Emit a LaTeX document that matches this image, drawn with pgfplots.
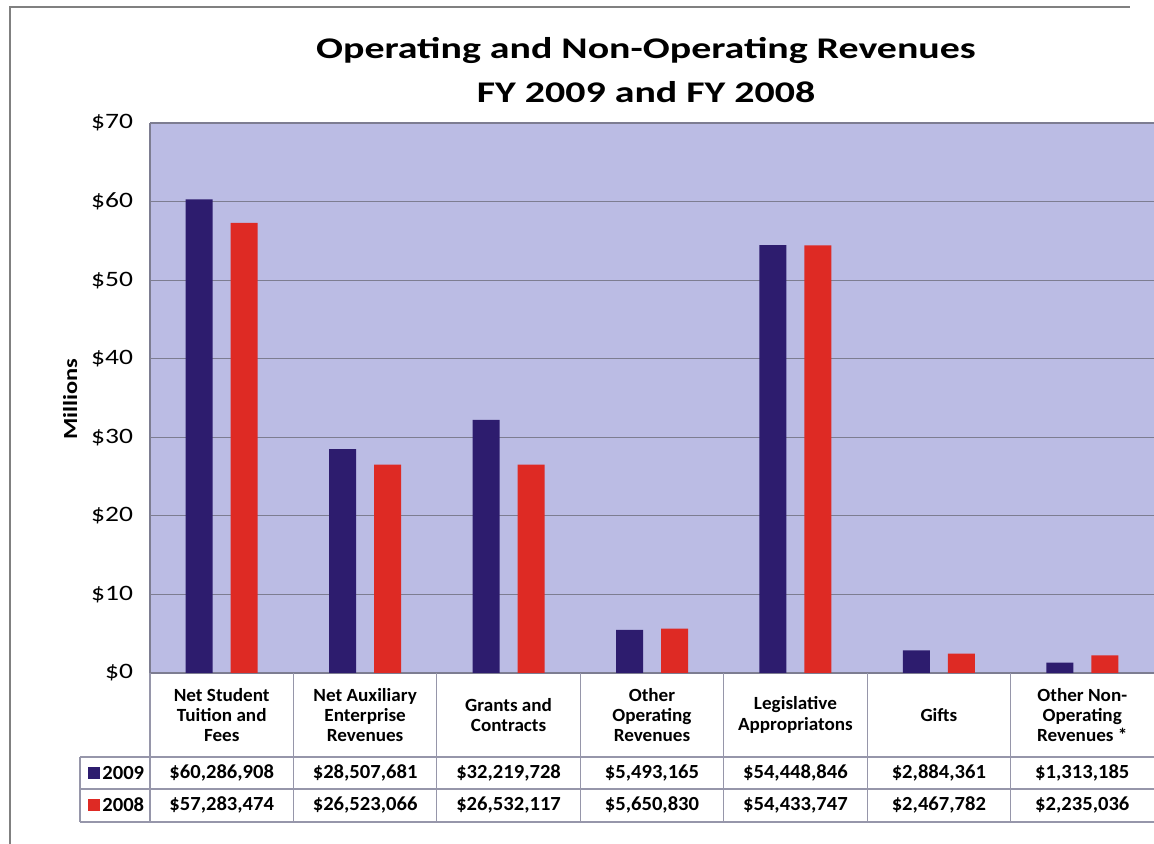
\documentclass[border=0pt]{standalone}
\usepackage{pgfplots}
\pgfplotsset{compat=1.18}
\usepackage{fontspec}
\setmainfont{Carlito}
\newfontfamily\titlefont[FakeStretch=1.33]{Carlito}
\newfontfamily\tickfont[FakeStretch=1.25]{Carlito}
\newfontfamily\labfont[FakeStretch=1.22]{Carlito}
\newfontfamily\tabfont[FakeStretch=1.03]{Carlito}
\definecolor{navy9}{RGB}{45,28,110}
\definecolor{red8}{RGB}{222,42,36}
\definecolor{plotbg}{RGB}{187,188,228}
\definecolor{gridc}{RGB}{125,125,145}
\definecolor{tabline}{RGB}{150,150,170}
\begin{document}
\begin{tikzpicture}
\begin{axis}[
  at={(75pt,85.5pt)}, anchor=south west,
  scale only axis, width=502pt, height=275pt,
  xmin=-0.5, xmax=6.5, ymin=0, ymax=70,
  xtick=\empty,
  ytick={0,10,...,70},
  yticklabel={\$\pgfmathprintnumber{\tick}},
  /pgf/number format/assume math mode=true,
  yticklabel style={font=\tickfont\fontsize{11}{13}\selectfont, xshift=-5pt},
  ymajorgrids, grid style={gridc, line width=0.6pt},
  axis background/.style={fill=plotbg},
  axis line style={gridc, line width=0.6pt},
  axis x line*=bottom, axis y line*=left,
  tick style={gridc, line width=0.6pt},
  major tick length=4pt,
  ylabel={Millions},
  every axis y label/.style={at={(ticklabel cs:0.52)}, rotate=90, anchor=near ticklabel, xshift=-6pt, font=\labfont\fontsize{10}{12}\selectfont\bfseries},
  ybar=9pt, bar width=13.5pt,
  clip=false,
]
\addplot[fill=navy9, draw=none] coordinates {(0,60.286908) (1,28.507681) (2,32.219728) (3,5.493165) (4,54.448846) (5,2.884361) (6,1.313185)};
\addplot[fill=red8, draw=none] coordinates {(0,57.283474) (1,26.523066) (2,26.532117) (3,5.650830) (4,54.433747) (5,2.467782) (6,2.235036)};
\end{axis}
% title
\node[font=\titlefont\fontsize{15}{18}\selectfont\bfseries, anchor=base] at (323pt,392.5pt) {Operating and Non-Operating Revenues};
\node[font=\titlefont\fontsize{15}{18}\selectfont\bfseries, anchor=base] at (323pt,370.5pt) {FY 2009 and FY 2008};
% frame
\draw[gray, line width=0.8pt] (5pt,0pt) -- (5pt,418.5pt) -- (565pt,418.5pt);
% table lines
\begin{scope}[tabline, line width=0.6pt]
\foreach \k in {0,...,6} {\draw ({75pt+\k*71.714pt},11pt) -- ({75pt+\k*71.714pt},85.5pt);}
\draw (40pt,11pt) -- (40pt,43.5pt);
\draw (40pt,43.5pt) -- (577pt,43.5pt);
\draw (40pt,27.5pt) -- (577pt,27.5pt);
\draw (40pt,11pt) -- (577pt,11pt);
\end{scope}
% headers
\begin{scope}[every node/.style={font=\tabfont\fontsize{9.3}{10.2}\selectfont\bfseries, align=center}]
\node at (110.86pt,64.5pt) {Net Student\\Tuition and\\Fees};
\node at (182.57pt,64.5pt) {Net Auxiliary\\Enterprise\\Revenues};
\node at (254.29pt,64.5pt) {Grants and\\Contracts};
\node at (326.00pt,64.5pt) {Other\\Operating\\Revenues};
\node at (397.71pt,64.5pt) {Legislative\\Appropriatons};
\node at (469.43pt,64.5pt) {Gifts};
\node at (541.14pt,64.5pt) {Other Non-\\Operating\\Revenues *};
\end{scope}
\begin{scope}[every node/.style={font=\tabfont\fontsize{10}{12}\selectfont\bfseries}]
\node at (110.86pt,35.5pt) {\$60,286,908};
\node at (182.57pt,35.5pt) {\$28,507,681};
\node at (254.29pt,35.5pt) {\$32,219,728};
\node at (326.00pt,35.5pt) {\$5,493,165};
\node at (397.71pt,35.5pt) {\$54,448,846};
\node at (469.43pt,35.5pt) {\$2,884,361};
\node at (541.14pt,35.5pt) {\$1,313,185};
\node at (110.86pt,19.5pt) {\$57,283,474};
\node at (182.57pt,19.5pt) {\$26,523,066};
\node at (254.29pt,19.5pt) {\$26,532,117};
\node at (326.00pt,19.5pt) {\$5,650,830};
\node at (397.71pt,19.5pt) {\$54,433,747};
\node at (469.43pt,19.5pt) {\$2,467,782};
\node at (541.14pt,19.5pt) {\$2,235,036};
\fill[navy9] (44pt,32.5pt) rectangle (50pt,38.5pt);
\fill[red8] (44pt,16.5pt) rectangle (50pt,22.5pt);
\node[anchor=west, inner sep=0pt] at (51pt,35.5pt) {2009};
\node[anchor=west, inner sep=0pt] at (51pt,19.5pt) {2008};
\end{scope}
\pgfresetboundingbox
\path[use as bounding box] (0,0) rectangle (577pt,422pt);
\end{tikzpicture}
\end{document}
